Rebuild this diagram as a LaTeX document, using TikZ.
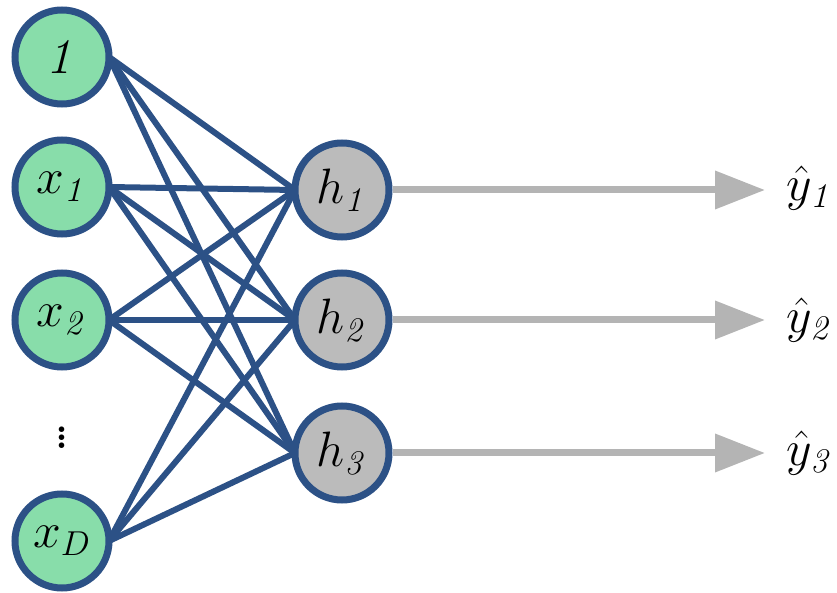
\documentclass[tikz,border=0pt]{standalone}
\usepackage{amsmath}
\usepackage{amssymb}
\usetikzlibrary{arrows.meta}

\definecolor{edgeblue}{HTML}{2C5186}
\definecolor{ingreen}{HTML}{88DDAA}
\definecolor{hidgray}{HTML}{BBBBBB}
\definecolor{outgray}{HTML}{B4B4B4}

\begin{document}
\begin{tikzpicture}[x=0.5pt, y=-0.5pt,
        main/.style = {draw=edgeblue, circle, line width=3.5pt, minimum size=47pt, inner sep=0pt, font=\fontsize{26}{30}\selectfont},
        inp/.style = {main, fill=ingreen},
        hid/.style = {main, fill=hidgray},
        wt/.style = {draw=edgeblue, line width=3pt},
        ar/.style = {draw=outgray, line width=3.5pt, -{Triangle[length=25pt, width=18.5pt]}},
        lab/.style = {font=\fontsize{26}{30}\selectfont}]
        \useasboundingbox (0,0) rectangle (837,593);

        % weights first, so the nodes sit on top
        \coordinate (c1) at (62+47,57);
        \coordinate (c2) at (62+47,187);
        \coordinate (c3) at (62+47,320);
        \coordinate (c4) at (62+47,541);
        \coordinate (d1) at (342-47,190);
        \coordinate (d2) at (342-47,320);
        \coordinate (d3) at (342-47,453);
        \foreach \i in {1,2,3,4}
            \foreach \j in {1,2,3}
                \draw[wt] (c\i) -- (d\j);

        \node[inp] (one) at (62,57) {$\mathit{1}$};
        \node[inp] (x1) at (62,187) {$x_{\mathit{1}}$};
        \node[inp] (x2) at (62,320) {$x_{\mathit{2}}$};
        \node[font=\fontsize{34}{40}\selectfont] (dots) at (62,432) {$\vdots$};
        \node[inp] (xD) at (62,541) {$x_D$};

        \node[hid] (h1) at (342,190) {$h_{\mathit{1}}$};
        \node[hid] (h2) at (342,320) {$h_{\mathit{2}}$};
        \node[hid] (h3) at (342,453) {$h_{\mathit{3}}$};

        \node[lab] (y1) at (810,188) {$\hat{y}_{\mathit{1}}$};
        \node[lab] (y2) at (810,320) {$\hat{y}_{\mathit{2}}$};
        \node[lab] (y3) at (810,453) {$\hat{y}_{\mathit{3}}$};

        \draw[ar] (h1) -- (765,190);
        \draw[ar] (h2) -- (765,320);
        \draw[ar] (h3) -- (765,453);
    \end{tikzpicture}
\end{document}
